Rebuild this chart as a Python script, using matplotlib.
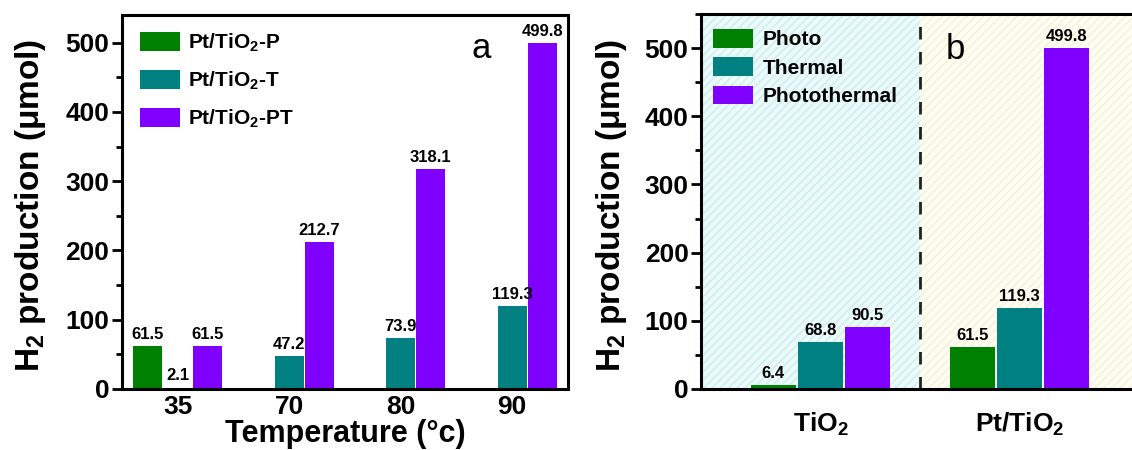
import numpy as np
import matplotlib
matplotlib.use('Agg')
import matplotlib.pyplot as plt
from matplotlib.ticker import MultipleLocator

plt.rcParams['font.family'] = ['Liberation Sans', 'DejaVu Sans']
plt.rcParams['font.weight'] = 'bold'
plt.rcParams['mathtext.fontset'] = 'custom'
plt.rcParams['mathtext.bf'] = 'Liberation Sans:bold'
plt.rcParams['mathtext.rm'] = 'Liberation Sans:bold'
plt.rcParams['mathtext.default'] = 'bf'
plt.rcParams['hatch.linewidth'] = 1.0

# panel a data
temps = ['35', '70', '80', '90']
a_photo = [61.5, None, None, None]
a_thermal = [2.1, 47.2, 73.9, 119.3]
a_photothermal = [61.5, 212.7, 318.1, 499.8]
a_names = ['Pt/TiO$_2$-P', 'Pt/TiO$_2$-T', 'Pt/TiO$_2$-PT']

# panel b data
samples = ['TiO$_2$', 'Pt/TiO$_2$']
b_photo = [6.4, 61.5]
b_thermal = [68.8, 119.3]
b_photothermal = [90.5, 499.8]
b_names = ['Photo', 'Thermal', 'Photothermal']

colors = ['#008000', '#008080', '#8000ff']

W, H = 1132, 450
fig = plt.figure(figsize=(W/100, H/100), dpi=100)
ax1 = fig.add_axes([122/W, 61/H, 446/W, 374/H])
ax2 = fig.add_axes([701/W, 61/H, 438/W, 375/H])


def style(ax):
    for s in ax.spines.values():
        s.set_linewidth(2.2)
    ax.tick_params(axis='y', which='major', direction='out', length=7, width=2,
                   labelsize=19, pad=2)
    ax.tick_params(axis='y', which='minor', direction='out', length=4, width=2)
    ax.tick_params(axis='x', length=0, labelsize=19)
    ax.yaxis.set_major_locator(MultipleLocator(100))
    ax.yaxis.set_minor_locator(MultipleLocator(50))


def label_bars(ax, bars, vals):
    for b, v in zip(bars, vals):
        if v is None:
            continue
        ax.text(b.get_x() + b.get_width()/2, v + 6, f'{v}', ha='center',
                va='bottom', fontsize=12, fontweight='bold')


# ---- panel a ----
x = np.arange(len(temps))
w, off = 0.26, 0.27
series_a = [a_photo, a_thermal, a_photothermal]
for i, (vals, c, n) in enumerate(zip(series_a, colors, a_names)):
    xs = [xx + (i - 1)*off for xx, v in zip(x, vals) if v is not None]
    vs = [v for v in vals if v is not None]
    bars = ax1.bar(xs, vs, w, color=c, label=n)
    label_bars(ax1, bars, vs)
ax1.set_xlim(-0.5, 3.5)
ax1.set_ylim(0, 540)
ax1.set_xticks(x)
ax1.set_xticklabels(temps)
ax1.tick_params(axis='x', pad=4)
style(ax1)
ax1.set_xlabel('Temperature (°c)', fontsize=22, fontweight='bold', labelpad=0)
ax1.set_ylabel('H$_2$ production (μmol)', fontsize=24, fontweight='bold')
ax1.yaxis.set_label_coords(-0.166, 0.49)
ax1.text(0.805, 0.91, 'a', transform=ax1.transAxes, fontsize=25,
         fontweight='normal', ha='center', va='center')
ax1.legend(loc='upper left', bbox_to_anchor=(0.04, 0.955), frameon=False,
           fontsize=15, handlelength=1.95, handleheight=1.0, labelspacing=0.75,
           handletextpad=0.35, borderpad=0, borderaxespad=0)

# ---- panel b ----
x2 = np.arange(len(samples))
w2, off2 = 0.227, 0.237
ax2.axvspan(-0.6, 0.5, facecolor='#ecfafa', edgecolor='#c8eef0', hatch='////',
            lw=0, zorder=0)
ax2.axvspan(0.5, 1.6, facecolor='#fefef3', edgecolor='#f2f2d8', hatch='////',
            lw=0, zorder=0)
ax2.axvline(0.5, color='#222222', lw=2, linestyle=(0, (4.5, 4.5)), zorder=1)
series_b = [b_photo, b_thermal, b_photothermal]
for i, (vals, c, n) in enumerate(zip(series_b, colors, b_names)):
    bars = ax2.bar(x2 + (i - 1)*off2, vals, w2, color=c, label=n, zorder=2)
    label_bars(ax2, bars, vals)
ax2.set_xlim(-0.6, 1.6)
ax2.set_ylim(0, 550)
ax2.set_xticks(x2)
ax2.set_xticklabels(samples)
ax2.tick_params(axis='x', pad=16)
style(ax2)
ax2.set_ylabel('H$_2$ production (μmol)', fontsize=24, fontweight='bold')
ax2.yaxis.set_label_coords(-0.165, 0.49)
ax2.text(0.58, 0.905, 'b', transform=ax2.transAxes, fontsize=25,
         fontweight='normal', ha='center', va='center')
ax2.legend(loc='upper left', bbox_to_anchor=(0.027, 0.96), frameon=False,
           fontsize=15, handlelength=1.95, handleheight=1.0, labelspacing=0.38,
           handletextpad=0.45, borderpad=0, borderaxespad=0)

plt.savefig('out.png', dpi=100)
